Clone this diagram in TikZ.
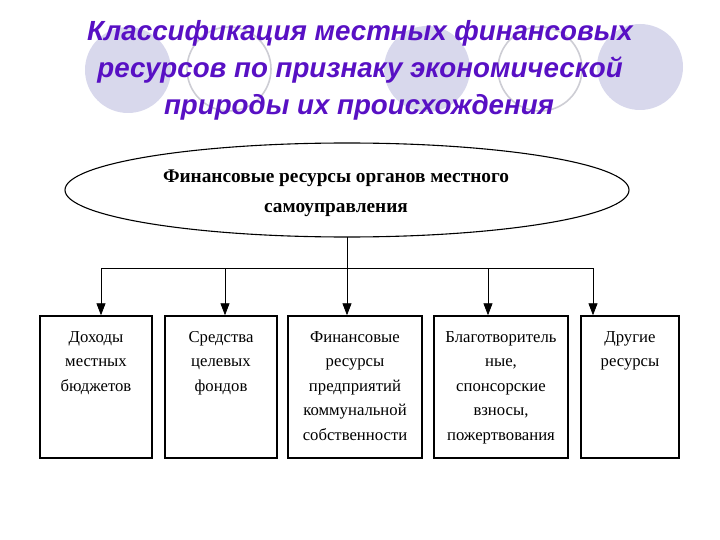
\documentclass[tikz,border=0pt]{standalone}
\usepackage{fontspec}
\setmainfont{Liberation Serif}
\newfontfamily\titlefont{Liberation Sans}
\usetikzlibrary{arrows.meta}
\definecolor{titlecol}{RGB}{88,16,196}
\definecolor{circfill}{RGB}{216,216,236}
\definecolor{circline}{RGB}{205,205,212}
\tikzset{
  fcirc/.style={circle, fill=circfill, minimum size=86pt, inner sep=0pt},
  ocirc/.style={circle, draw=circline, line width=1.6pt, minimum size=84pt, inner sep=0pt},
  ttl/.style={font=\titlefont\bfseries\itshape\fontsize{27.7}{32}\selectfont, text=titlecol, inner sep=0pt},
  boxr/.style={draw, line width=1.4pt, rectangle, inner sep=0pt},
  boxt/.style={anchor=north, align=center, inner sep=0pt, font=\fontsize{16.7}{24.4}\selectfont},
  conn/.style={line width=0.8pt},
  arr/.style={conn, -{Triangle[length=12pt,width=9pt]}}
}
\begin{document}
\begin{tikzpicture}[x=1pt,y=-1pt]
\useasboundingbox (0,0) rectangle (720,540);
% background circles
\node[fcirc] (c1) at (128,70) {};
\node[ocirc] (c2) at (229,69) {};
\node[fcirc] (c3) at (427,69) {};
\node[ocirc] (c4) at (540,69) {};
\node[fcirc] (c5) at (640,67) {};
% title
\node[ttl] (t1) at (360,33) {Классификация местных финансовых};
\node[ttl] (t2) at (360,70) {ресурсов по признаку экономической};
\node[ttl] (t3) at (359,107) {природы их происхождения};
% ellipse
\draw[line width=1.1pt] (347,190) ellipse [x radius=282, y radius=47];
\coordinate (ebot) at (347,237);
\node[align=center, inner sep=0pt, font=\bfseries\fontsize{19.3}{30}\selectfont] (etext) at (336,193.5)
  {Финансовые ресурсы органов местного\\самоуправления};
% boxes
\node[boxr, minimum width=112pt, minimum height=142pt] (b1) at (96,387) {};
\node[boxr, minimum width=112pt, minimum height=142pt] (b2) at (221,387) {};
\node[boxr, minimum width=134pt, minimum height=142pt] (b3) at (355,387) {};
\node[boxr, minimum width=134pt, minimum height=142pt] (b4) at (501,387) {};
\node[boxr, minimum width=98pt, minimum height=142pt] (b5) at (630,387) {};
\node[boxt] (x1) at ([yshift=-16pt]b1.north) {Доходы\\местных\\бюджетов};
\node[boxt] (x2) at ([yshift=-16pt]b2.north) {Средства\\целевых\\фондов};
\node[boxt] (x3) at ([yshift=-16pt]b3.north) {Финансовые\\ресурсы\\предприятий\\коммунальной\\собственности};
\node[boxt] (x4) at ([yshift=-16pt]b4.north) {Благотворитель\\ные,\\спонсорские\\взносы,\\пожертвования};
\node[boxt] (x5) at ([yshift=-16pt]b5.north) {Другие\\ресурсы};
% connectors
\coordinate (h1) at (101,268);
\coordinate (h2) at (225,268);
\coordinate (h3) at (347,268);
\coordinate (h4) at (488,268);
\coordinate (h5) at (593,268);
\draw[conn] (ebot) -- (h3);
\draw[conn] (h1) -- (h5);
\draw[arr] (h1) -- (h1 |- b1.north);
\draw[arr] (h2) -- (h2 |- b2.north);
\draw[arr] (h3) -- (h3 |- b3.north);
\draw[arr] (h4) -- (h4 |- b4.north);
\draw[arr] (h5) -- (h5 |- b5.north);
\end{tikzpicture}
\end{document}
